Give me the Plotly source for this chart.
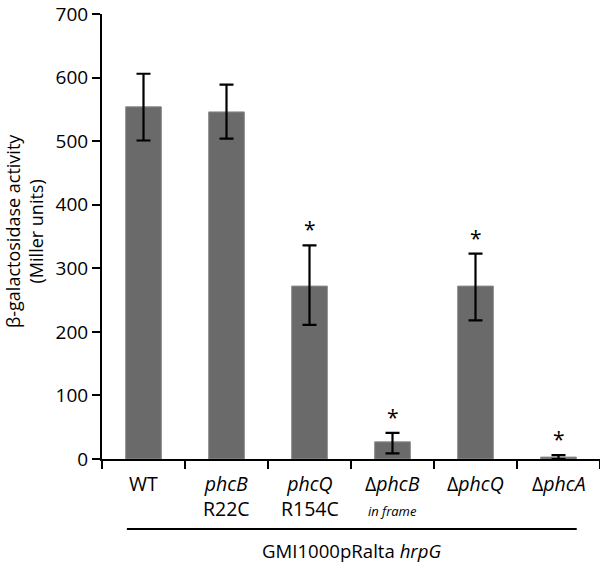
import plotly.graph_objects as go

categories = ["WT", "phcB R22C", "phcQ R154C", "ΔphcB in frame", "ΔphcQ", "ΔphcA"]
tick_labels = ["WT", "<i>phcB</i><br>R22C", "<i>phcQ</i><br>R154C",
               "Δ<i>phcB</i><br><i><span style='font-size:13px'>in frame</span></i>",
               "Δ<i>phcQ</i>", "Δ<i>phcA</i>"]
values = [554, 546, 272, 27, 272, 3]
err_plus = [52, 43, 64, 14, 51, 3]
err_minus = [53, 42, 61, 18, 54, 3]
significant = [False, False, True, True, True, True]
y_ticks = [0, 100, 200, 300, 400, 500, 600, 700]

FONT = "Open Sans"
PW, PH = 498, 445  # plot area size in px

fig = go.Figure()
fig.add_trace(go.Bar(
    x=list(range(len(categories))), y=values, width=0.43,
    marker=dict(color="#6a6a6a", line=dict(color="#8c8c8c", width=1)),
    error_y=dict(type="data", symmetric=False, array=err_plus, arrayminus=err_minus,
                 color="black", thickness=2.2, width=7),
    showlegend=False, hoverinfo="skip",
))

annotations = []
for i, lab in enumerate(tick_labels):
    annotations.append(dict(x=i, y=0, xref="x", yref="y", yanchor="top", yshift=-9,
                            text=lab, showarrow=False,
                            font=dict(family=FONT, size=19.5, color="black")))
for i, s in enumerate(significant):
    if s:
        annotations.append(dict(x=i, y=values[i] + err_plus[i], xref="x", yref="y",
                                yanchor="bottom", yshift=0, text="*", showarrow=False,
                                font=dict(family=FONT, size=21, color="black")))
annotations.append(dict(x=2.5, y=-91 / PH, xref="x", yref="paper", yanchor="middle",
                        text="GMI1000pRalta <i>hrpG</i>", showarrow=False,
                        font=dict(family=FONT, size=18.6, color="black")))
annotations.append(dict(x=-78 / PW, y=(459 - 231) / PH, xref="paper", yref="paper",
                        xanchor="center", yanchor="middle", textangle=-90,
                        text="β-galactosidase activity<br>(Miller units)", showarrow=False,
                        font=dict(family=FONT, size=18, color="black")))

fig.update_layout(
    width=600, height=563,
    margin=dict(l=102, r=0, t=14, b=104),
    paper_bgcolor="white", plot_bgcolor="white",
    annotations=annotations,
    shapes=[dict(type="line", xref="x", yref="paper", x0=-0.2, x1=5.22,
                 y0=-70 / PH, y1=-70 / PH, line=dict(color="black", width=2))],
    xaxis=dict(range=[-0.5, 5.5], tickmode="array",
               tickvals=[-0.5, 0.5, 1.5, 2.5, 3.5, 4.5, 5.5],
               showticklabels=False, ticks="outside", ticklen=8, tickwidth=2,
               tickcolor="black", showline=True, linecolor="black", linewidth=2,
               showgrid=False, zeroline=False),
    yaxis=dict(range=[0, 700], tickmode="array", tickvals=y_ticks,
               ticks="outside", ticklen=8, tickwidth=2, tickcolor="black",
               showline=True, linecolor="black", linewidth=2,
               showgrid=False, zeroline=False, ticklabeloverflow="allow",
               tickfont=dict(family=FONT, size=19, color="black")),
)

fig.write_html("out.html", config={"displayModeBar": False},
               post_script="document.body.style.margin='0';")
